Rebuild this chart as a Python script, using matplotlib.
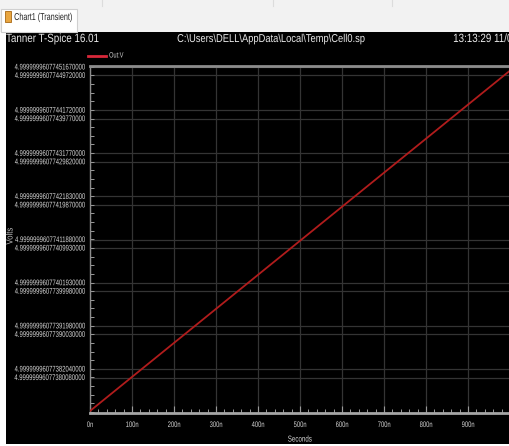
import matplotlib
matplotlib.use("Agg")
import matplotlib.pyplot as plt
from matplotlib.font_manager import FontProperties
from matplotlib.patheffects import AbstractPathEffect
from matplotlib.transforms import Affine2D
from matplotlib.patches import Rectangle
from matplotlib.lines import Line2D
from matplotlib.ticker import FixedLocator, MultipleLocator, NullFormatter

# ---- data -------------------------------------------------------------
# Voltages are stored as an offset above 4.99999996077 V, in units of 1e-20 V,
# because the spread is far below float64 resolution around 5 V.
V_BASE_LABEL = "4.99999996077"
time_ns = [0, 100, 200, 300, 400, 500, 600, 700, 800, 900, 1000]
out_v_offset = [372366000, 380213500, 388061000, 395908500, 403756000,
                411603500, 419451000, 427298500, 435146000, 442993500,
                450841000]

ytick_offsets = [451670000, 449720000, 441720000, 439770000,
                 431770000, 429820000, 421830000, 419870000,
                 411880000, 409930000, 401930000, 399980000,
                 391980000, 390030000, 382040000, 380080000]
ytick_labels = [V_BASE_LABEL + f"{v:09d}" for v in ytick_offsets]

xtick_ns = [0, 100, 200, 300, 400, 500, 600, 700, 800, 900]
xtick_labels = [f"{t}n" for t in xtick_ns]

title_left = "Tanner T-Spice 16.01"
title_mid = r"C:\Users\DELL\AppData\Local\Temp\Cell0.sp"
title_right = "13:13:29 11/01"
tab_text = "Chart1 (Transient)"
series_name = "Out:V"


# ---- fonts ------------------------------------------------------------
class Squeeze(AbstractPathEffect):
    """Draw text horizontally condensed (a narrow UI face look-alike)."""

    def __init__(self, sx, anchor="left"):
        super().__init__()
        self.sx = sx
        self.anchor = anchor

    def draw_path(self, renderer, gc, tpath, affine, rgbFace=None):
        ext = tpath.get_extents()
        if self.anchor == "right":
            x0 = ext.x1
        elif self.anchor == "center":
            x0 = 0.5 * (ext.x0 + ext.x1)
        else:
            x0 = ext.x0
        pre = Affine2D().translate(-x0, 0).scale(self.sx, 1.0).translate(x0, 0)
        renderer.draw_path(gc, tpath, pre + affine, rgbFace)


SQ = 0.72      # small axis/legend text
SQ_HEAD = 0.82  # header line


def ui(size, bold=False):
    return FontProperties(family=["Liberation Sans", "DejaVu Sans"], size=size,
                          weight="bold" if bold else "normal")


# ---- figure -----------------------------------------------------------
W, H = 509, 446
DPI = 100
fig = plt.figure(figsize=(W / DPI, H / DPI), dpi=DPI, facecolor="#ffffff")


def fx(px):
    return px / W


def fy(py):
    return 1 - py / H


# window chrome: tab strip and black chart panel
fig.patches.append(Rectangle((0, fy(32)), 1, 32 / H, transform=fig.transFigure,
                             facecolor="#f2f2f2", edgecolor="none", zorder=0))
for sx_ in (102, 273, 392):
    fig.lines.append(Line2D([fx(sx_), fx(sx_)], [fy(0), fy(6)], transform=fig.transFigure,
                            color="#dcdcdc", lw=0.8))
fig.patches.append(Rectangle((fx(1), fy(32)), 76 / W, 23 / H, transform=fig.transFigure,
                             facecolor="#ffffff", edgecolor="#d0d0d0", lw=0.8, zorder=1))
fig.patches.append(Rectangle((fx(5), fy(22)), 6 / W, 11 / H, transform=fig.transFigure,
                             facecolor="#e9a640", edgecolor="#a86814", lw=0.6, zorder=2))
fig.text(fx(14), fy(17), tab_text, fontproperties=ui(7.2), color="#202020",
         va="center", ha="left", path_effects=[Squeeze(SQ, "left")])
fig.patches.append(Rectangle((fx(6), fy(444)), 1, (444 - 32) / H, transform=fig.transFigure,
                             facecolor="#000000", edgecolor="none", zorder=0))

# header text
fig.text(fx(6), fy(39), title_left, fontproperties=ui(8.6), color="#e8e8e8",
         va="center", ha="left", path_effects=[Squeeze(SQ_HEAD, "left")])
fig.text(fx(177), fy(39), title_mid, fontproperties=ui(8.2), color="#e8e8e8",
         va="center", ha="left", path_effects=[Squeeze(SQ_HEAD, "left")])
fig.text(fx(453), fy(39), title_right, fontproperties=ui(8.6), color="#e8e8e8",
         va="center", ha="left", path_effects=[Squeeze(SQ_HEAD, "left")])

# legend
fig.lines.append(Line2D([fx(88), fx(106)], [fy(56), fy(56)], transform=fig.transFigure,
                        color="#d8283a", lw=2.0))
fig.text(fx(109), fy(56), series_name, fontproperties=ui(5.6),
         color="#d0d0d0", va="center", ha="left", path_effects=[Squeeze(SQ, "left")])

# ---- plot area --------------------------------------------------------
left, right, top, bottom = 90, 510, 66, 413
ax = fig.add_axes([fx(left), fy(bottom), (right - left) / W, (bottom - top) / H])
ax.set_zorder(5)
ax.set_facecolor("#000000")

ax.plot(time_ns, out_v_offset, color="#b01c1c", lw=1.3, zorder=3)

ax.set_xlim(0, 1000)
ax.set_ylim(371905000, 451900000)

ax.xaxis.set_major_locator(FixedLocator(xtick_ns))
ax.xaxis.set_minor_locator(MultipleLocator(20))
ax.set_xticklabels(xtick_labels, fontproperties=ui(5.8), color="#d6d6d6",
                   path_effects=[Squeeze(SQ, "center")])
ax.yaxis.set_major_locator(FixedLocator(ytick_offsets))
ax.yaxis.set_minor_locator(MultipleLocator(1990000))
ax.yaxis.set_minor_formatter(NullFormatter())
ax.set_yticklabels(ytick_labels, fontproperties=ui(5.9), color="#d6d6d6",
                   path_effects=[Squeeze(SQ, "right")])

ax.grid(True, which="major", color="#343434", lw=0.9, zorder=1)
ax.set_axisbelow(True)

ax.tick_params(axis="both", which="both", direction="in", colors="#9a9a9a")
ax.tick_params(axis="x", which="major", length=5, width=0.8, labelcolor="#d6d6d6", pad=6.5)
ax.tick_params(axis="x", which="minor", length=3, width=0.7)
ax.tick_params(axis="y", which="major", length=0, labelcolor="#d6d6d6", pad=3.5)
ax.tick_params(axis="y", which="minor", length=3, width=0.7)

ax.spines["right"].set_visible(False)
ax.spines["top"].set_color("#8c8c8c")
ax.spines["top"].set_linewidth(2.0)
ax.spines["bottom"].set_color("#a6a6a6")
ax.spines["bottom"].set_linewidth(2.0)
ax.spines["left"].set_color("#8c8c8c")
ax.spines["left"].set_linewidth(1.0)

xl = ax.set_xlabel("Seconds", fontproperties=ui(6.2), color="#d6d6d6", labelpad=4)
xl.set_path_effects([Squeeze(SQ, "center")])
fig.text(fx(10), fy(236), "Volts", fontproperties=ui(6.6), color="#bcbcbc",
         rotation=90, va="center", ha="center", path_effects=[Squeeze(0.85, "center")])

fig.savefig("out.png", dpi=DPI, facecolor=fig.get_facecolor())
